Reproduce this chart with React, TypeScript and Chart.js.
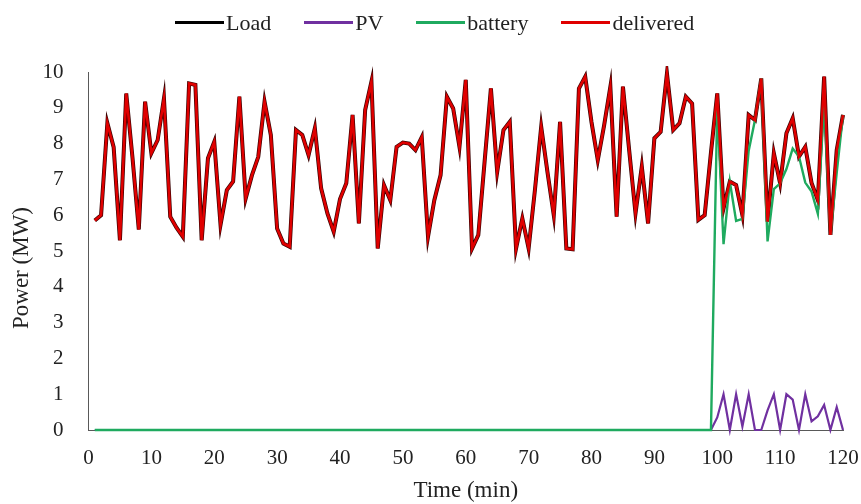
import React, { useEffect, useRef } from "react";
import { Chart, registerables } from "chart.js";

Chart.register(...registerables);

// Time axis (minutes)
const minutes: number[] = Array.from({ length: 120 }, (_, i) => i + 1);

// Load (MW), t = 1..120
const load: number[] = [
  5.85, 6.0, 8.57, 7.9, 5.3, 9.4, 7.6, 5.6, 9.17, 7.73,
  8.1, 9.26, 5.96, 5.65, 5.4, 9.68, 9.64, 5.3, 7.59, 8.05,
  5.73, 6.7, 6.94, 9.31, 6.47, 7.12, 7.63, 9.17, 8.24, 5.63,
  5.21, 5.12, 8.38, 8.24, 7.68, 8.43, 6.75, 6.05, 5.54, 6.45,
  6.89, 8.8, 5.77, 8.94, 9.73, 5.07, 6.84, 6.42, 7.91, 8.03,
  8.0, 7.82, 8.18, 5.4, 6.42, 7.12, 9.31, 8.98, 7.91, 9.78,
  5.07, 5.45, 7.5, 9.54, 7.21, 8.38, 8.61, 5.07, 5.91, 5.07,
  6.7, 8.47, 7.2, 6.0, 8.61, 5.07, 5.05, 9.54, 9.87, 8.6,
  7.54, 8.5, 9.59, 5.96, 9.59, 7.8, 6.05, 7.36, 5.77, 8.15,
  8.33, 9.96, 8.38, 8.57, 9.31, 9.12, 5.87, 6.0, 7.75, 9.4,
  6.19, 6.94, 6.84, 6.0, 8.8, 8.66, 9.82, 5.82, 7.73, 6.89,
  8.29, 8.71, 7.64, 7.91, 6.9, 6.42, 9.87, 5.45, 7.82, 8.8,
];

// PV (MW)
const pv: number[] = [
  0, 0, 0, 0, 0, 0, 0, 0, 0, 0,
  0, 0, 0, 0, 0, 0, 0, 0, 0, 0,
  0, 0, 0, 0, 0, 0, 0, 0, 0, 0,
  0, 0, 0, 0, 0, 0, 0, 0, 0, 0,
  0, 0, 0, 0, 0, 0, 0, 0, 0, 0,
  0, 0, 0, 0, 0, 0, 0, 0, 0, 0,
  0, 0, 0, 0, 0, 0, 0, 0, 0, 0,
  0, 0, 0, 0, 0, 0, 0, 0, 0, 0,
  0, 0, 0, 0, 0, 0, 0, 0, 0, 0,
  0, 0, 0, 0, 0, 0, 0, 0, 0, 0.35,
  1.0, 0, 1.0, 0.1, 1.0, 0, 0, 0.55, 1.0, 0,
  1.0, 0.85, 0, 1.0, 0.24, 0.38, 0.7, 0, 0.64, 0,
];

// Battery (MW)
const battery: number[] = [
  0, 0, 0, 0, 0, 0, 0, 0, 0, 0,
  0, 0, 0, 0, 0, 0, 0, 0, 0, 0,
  0, 0, 0, 0, 0, 0, 0, 0, 0, 0,
  0, 0, 0, 0, 0, 0, 0, 0, 0, 0,
  0, 0, 0, 0, 0, 0, 0, 0, 0, 0,
  0, 0, 0, 0, 0, 0, 0, 0, 0, 0,
  0, 0, 0, 0, 0, 0, 0, 0, 0, 0,
  0, 0, 0, 0, 0, 0, 0, 0, 0, 0,
  0, 0, 0, 0, 0, 0, 0, 0, 0, 0,
  0, 0, 0, 0, 0, 0, 0, 0, 0, 9.05,
  5.19, 6.94, 5.84, 5.9, 7.8, 8.66, 9.82, 5.27, 6.73, 6.89,
  7.29, 7.86, 7.64, 6.91, 6.66, 6.04, 9.17, 5.45, 7.18, 8.8,
];

// Delivered (MW) – coincides with load
const delivered: number[] = load.slice();

const xTicks = [0, 10, 20, 30, 40, 50, 60, 70, 80, 90, 100, 110, 120];
const yTicks = [0, 1, 2, 3, 4, 5, 6, 7, 8, 9, 10];

const legendItems = [
  { label: "Load", color: "#000000" },
  { label: "PV", color: "#7030A0" },
  { label: "battery", color: "#1FAA5F" },
  { label: "delivered", color: "#E00000" },
];

const yTitle = "Power (MW)";
const FONT = "'Liberation Serif', 'Times New Roman', serif";

const toPts = (ys: number[]) => minutes.map((t, i) => ({ x: t, y: ys[i] }));

const yTitlePlugin = {
  id: "yTitleShifted",
  afterDraw(chart: any) {
    const { ctx, chartArea } = chart;
    ctx.save();
    ctx.font = `23px ${FONT}`;
    ctx.fillStyle = "#222";
    ctx.textAlign = "center";
    ctx.textBaseline = "middle";
    ctx.translate(22, (chartArea.top + chartArea.bottom) / 2 + 17);
    ctx.rotate(-Math.PI / 2);
    ctx.fillText(yTitle, 0, 0);
    ctx.restore();
  },
};

export default function App() {
  const ref = useRef<HTMLCanvasElement | null>(null);

  useEffect(() => {
    if (!ref.current) return;
    const common = { pointRadius: 0, tension: 0, clip: 6 };
    const chart = new Chart(ref.current, {
      type: "line",
      data: {
        datasets: [
          { label: "delivered", data: toPts(delivered), borderColor: "#E00000", borderWidth: 2.6, ...common },
          { label: "battery", data: toPts(battery), borderColor: "#1FAA5F", borderWidth: 2.4, ...common },
          { label: "PV", data: toPts(pv), borderColor: "#7030A0", borderWidth: 2.2, ...common },
          { label: "Load", data: toPts(load), borderColor: "#3a0000", borderWidth: 4, ...common },
        ],
      },
      plugins: [yTitlePlugin],
      options: {
        animation: false,
        responsive: false,
        maintainAspectRatio: false,
        layout: { padding: { top: 72, right: 18, bottom: 0, left: 0 } },
        plugins: {
          legend: { display: false },
          tooltip: { enabled: false },
        },
        scales: {
          x: {
            type: "linear",
            min: 0,
            max: 120,
            afterBuildTicks: (s: any) => {
              s.ticks = xTicks.map((v) => ({ value: v }));
            },
            afterFit: (s: any) => {
              s.height = 74;
              s.paddingLeft = 0;
              s.paddingRight = 0;
            },
            grid: { display: false, drawTicks: false },
            border: { display: true, color: "#595959", width: 1 },
            ticks: {
              padding: 16,
              color: "#222",
              font: { family: FONT, size: 21 },
              maxRotation: 0,
            },
            title: {
              display: true,
              text: "Time (min)",
              color: "#222",
              font: { family: FONT, size: 23 },
              padding: { top: 0, bottom: -1 },
            },
          },
          y: {
            type: "linear",
            min: 0,
            max: 10,
            afterBuildTicks: (s: any) => {
              s.ticks = yTicks.map((v) => ({ value: v }));
            },
            afterFit: (s: any) => {
              s.width = 88.5;
            },
            grid: { display: false, drawTicks: false },
            border: { display: true, color: "#595959", width: 1 },
            ticks: {
              padding: 25,
              color: "#222",
              font: { family: FONT, size: 21 },
            },
          },
        },
      },
    });
    return () => chart.destroy();
  }, []);

  return (
    <div
      style={{
        position: "fixed",
        left: 0,
        top: 0,
        width: 861,
        height: 504,
        background: "#ffffff",
      }}
    >
      <canvas ref={ref} width={861} height={504} style={{ display: "block" }} />
      <div
        style={{
          position: "absolute",
          left: 175,
          top: 10,
          display: "flex",
          alignItems: "center",
          gap: 33,
          fontFamily: FONT,
          fontSize: 22,
          color: "#222",
          lineHeight: "25px",
        }}
      >
        {legendItems.map((it) => (
          <div key={it.label} style={{ display: "flex", alignItems: "center" }}>
            <span
              style={{
                display: "inline-block",
                width: 49,
                height: 3,
                background: it.color,
                marginRight: 2,
              }}
            />
            <span>{it.label}</span>
          </div>
        ))}
      </div>
    </div>
  );
}
